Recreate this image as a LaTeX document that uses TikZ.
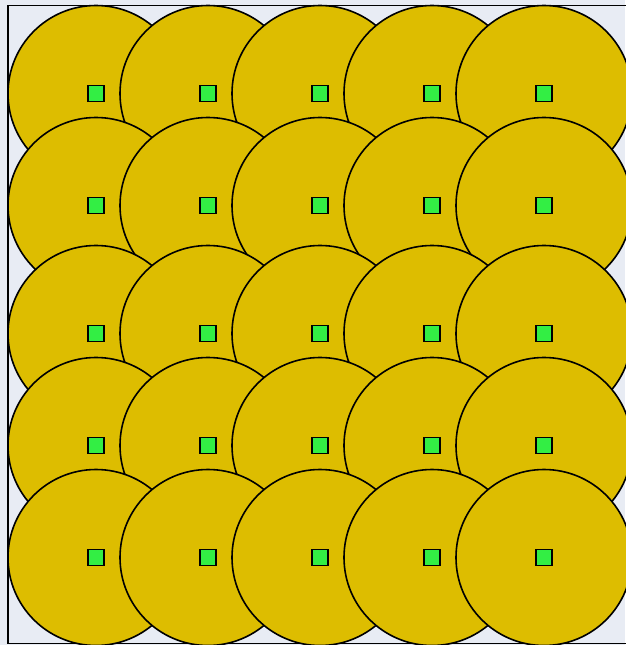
\documentclass[tikz,border=0pt]{standalone}
\definecolor{bgc}{HTML}{E8ECF4}
\definecolor{disc}{HTML}{DDBD00}
\definecolor{sqc}{HTML}{33EE44}
\tikzset{
  circ/.style={circle,draw=black,fill=disc,line width=1.6pt,minimum size=176pt,inner sep=0pt},
  sq/.style={rectangle,draw=black,fill=sqc,line width=1.5pt,minimum size=16pt,inner sep=0pt},
  frame/.style={draw=black,line width=1.5pt}
}
\begin{document}
\begin{tikzpicture}[x=1pt,y=-1pt]
\useasboundingbox (0,0) rectangle (625,645);
\fill[bgc] (0,0) rectangle (625,645);
\draw[frame] (8,5.5) rectangle (640,643.5);
\foreach \r/\yy in {1/93.5,2/205.5,3/333.5,4/445.5,5/557.5}{
  \foreach \c/\xx in {1/96,2/208,3/320,4/432,5/544}{
    \node[circ] (c-\r-\c) at (\xx,\yy) {};
    \node[sq] (s-\r-\c) at (c-\r-\c.center) {};
  }
}
\end{tikzpicture}
\end{document}
